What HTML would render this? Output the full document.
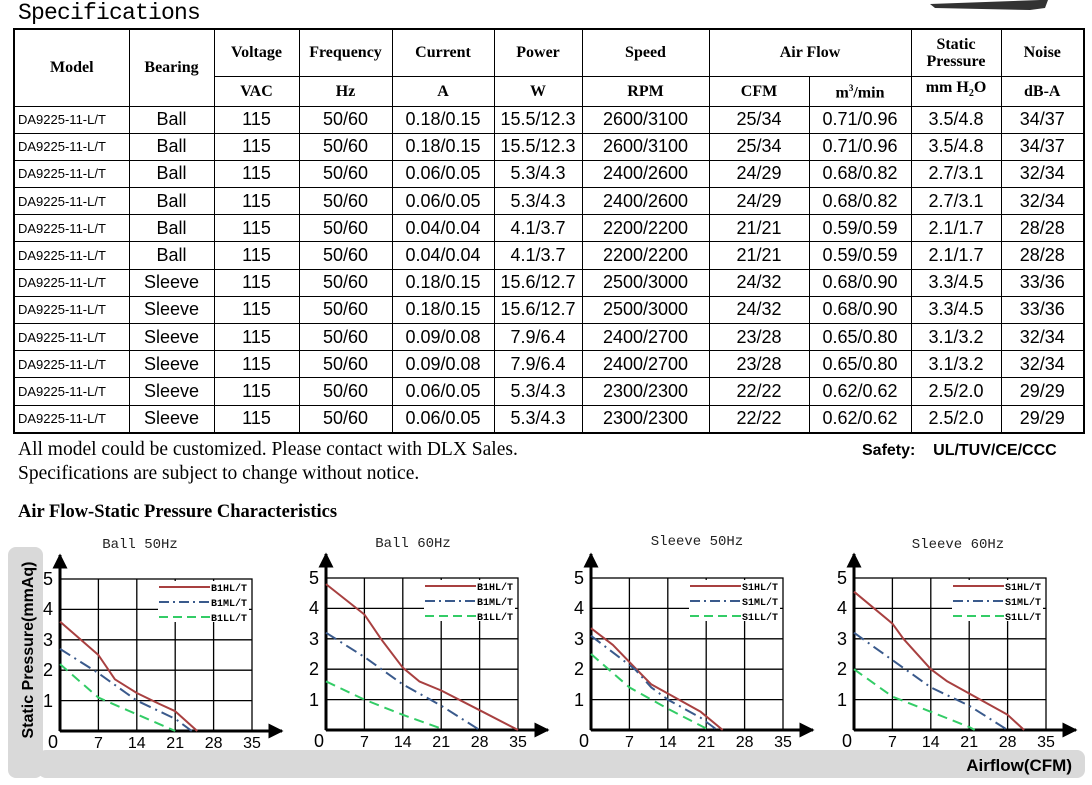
<!DOCTYPE html>
<html><head><meta charset="utf-8"><style>
body{margin:0;width:1092px;height:785px;background:#fff;position:relative;overflow:hidden;font-family:"Liberation Sans",sans-serif}
.abs{position:absolute}
table{border-collapse:collapse;table-layout:fixed;width:1070px;position:absolute;left:13px;top:28px;border:2px solid #000}
td,th{border:1.5px solid #000;text-align:center;padding:0;overflow:hidden;white-space:nowrap}
th{font-family:"Liberation Serif",serif;font-weight:bold;font-size:16px;line-height:17px}
td{font-size:18px;height:26.2px}
td.m{font-size:13px;text-align:left;padding-left:3px}
.ser{font-family:"Liberation Serif",serif}
</style></head><body>
<div class="abs" style="left:18px;top:0px;font-family:'Liberation Mono',monospace;font-size:23px;letter-spacing:-0.8px">Specifications</div>
<svg class="abs" style="left:0;top:0" width="1092" height="20"><polygon points="930,4 1040,0 1048,0 1045,8 1030,10 935,8" fill="#333"/></svg>
<table>
<colgroup><col style="width:115px"><col style="width:85px"><col style="width:85px"><col style="width:93px"><col style="width:102px"><col style="width:88px"><col style="width:127px"><col style="width:100px"><col style="width:102px"><col style="width:90px"><col style="width:83px"></colgroup>
<tr style="height:47px"><th rowspan="2">Model</th><th rowspan="2">Bearing</th><th>Voltage</th><th>Frequency</th><th>Current</th><th>Power</th><th>Speed</th><th colspan="2">Air Flow</th><th>Static<br>Pressure</th><th>Noise</th></tr>
<tr style="height:30px"><th>VAC</th><th>Hz</th><th>A</th><th>W</th><th>RPM</th><th>CFM</th><th>m<sup style="font-size:9px">3</sup>/min</th><th>mm H<sub style="font-size:10px">2</sub>O</th><th>dB-A</th></tr>
<tr><td class="m">DA9225-11-L/T</td><td>Ball</td><td>115</td><td>50/60</td><td>0.18/0.15</td><td>15.5/12.3</td><td>2600/3100</td><td>25/34</td><td>0.71/0.96</td><td>3.5/4.8</td><td>34/37</td></tr>
<tr><td class="m">DA9225-11-L/T</td><td>Ball</td><td>115</td><td>50/60</td><td>0.18/0.15</td><td>15.5/12.3</td><td>2600/3100</td><td>25/34</td><td>0.71/0.96</td><td>3.5/4.8</td><td>34/37</td></tr>
<tr><td class="m">DA9225-11-L/T</td><td>Ball</td><td>115</td><td>50/60</td><td>0.06/0.05</td><td>5.3/4.3</td><td>2400/2600</td><td>24/29</td><td>0.68/0.82</td><td>2.7/3.1</td><td>32/34</td></tr>
<tr><td class="m">DA9225-11-L/T</td><td>Ball</td><td>115</td><td>50/60</td><td>0.06/0.05</td><td>5.3/4.3</td><td>2400/2600</td><td>24/29</td><td>0.68/0.82</td><td>2.7/3.1</td><td>32/34</td></tr>
<tr><td class="m">DA9225-11-L/T</td><td>Ball</td><td>115</td><td>50/60</td><td>0.04/0.04</td><td>4.1/3.7</td><td>2200/2200</td><td>21/21</td><td>0.59/0.59</td><td>2.1/1.7</td><td>28/28</td></tr>
<tr><td class="m">DA9225-11-L/T</td><td>Ball</td><td>115</td><td>50/60</td><td>0.04/0.04</td><td>4.1/3.7</td><td>2200/2200</td><td>21/21</td><td>0.59/0.59</td><td>2.1/1.7</td><td>28/28</td></tr>
<tr><td class="m">DA9225-11-L/T</td><td>Sleeve</td><td>115</td><td>50/60</td><td>0.18/0.15</td><td>15.6/12.7</td><td>2500/3000</td><td>24/32</td><td>0.68/0.90</td><td>3.3/4.5</td><td>33/36</td></tr>
<tr><td class="m">DA9225-11-L/T</td><td>Sleeve</td><td>115</td><td>50/60</td><td>0.18/0.15</td><td>15.6/12.7</td><td>2500/3000</td><td>24/32</td><td>0.68/0.90</td><td>3.3/4.5</td><td>33/36</td></tr>
<tr><td class="m">DA9225-11-L/T</td><td>Sleeve</td><td>115</td><td>50/60</td><td>0.09/0.08</td><td>7.9/6.4</td><td>2400/2700</td><td>23/28</td><td>0.65/0.80</td><td>3.1/3.2</td><td>32/34</td></tr>
<tr><td class="m">DA9225-11-L/T</td><td>Sleeve</td><td>115</td><td>50/60</td><td>0.09/0.08</td><td>7.9/6.4</td><td>2400/2700</td><td>23/28</td><td>0.65/0.80</td><td>3.1/3.2</td><td>32/34</td></tr>
<tr><td class="m">DA9225-11-L/T</td><td>Sleeve</td><td>115</td><td>50/60</td><td>0.06/0.05</td><td>5.3/4.3</td><td>2300/2300</td><td>22/22</td><td>0.62/0.62</td><td>2.5/2.0</td><td>29/29</td></tr>
<tr><td class="m">DA9225-11-L/T</td><td>Sleeve</td><td>115</td><td>50/60</td><td>0.06/0.05</td><td>5.3/4.3</td><td>2300/2300</td><td>22/22</td><td>0.62/0.62</td><td>2.5/2.0</td><td>29/29</td></tr>
</table>
<div class="abs ser" style="left:18px;top:439px;font-size:19.5px">All model could be customized. Please contact with DLX Sales.</div>
<div class="abs ser" style="left:18px;top:463px;font-size:19.5px">Specifications are subject to change without notice.</div>
<div class="abs" style="left:862px;top:442px;font-size:16px;font-weight:bold">Safety:&nbsp;&nbsp;&nbsp;&nbsp;UL/TUV/CE/CCC</div>
<div class="abs ser" style="left:18px;top:502px;font-size:18.5px;font-weight:bold">Air Flow-Static Pressure Characteristics</div>

<svg class="abs" style="left:0;top:0" width="1092" height="785">
<defs><marker id="ar" viewBox="0 0 10 10" refX="9" refY="5" markerWidth="5" markerHeight="5" orient="auto"><path d="M0,0 L10,5 L0,10 z" fill="#000"/></marker></defs>
<rect x="8" y="547" width="35" height="231" rx="8" fill="#d9d9d9"/>
<rect x="38" y="750" width="1047" height="28" rx="8" fill="#d9d9d9"/>
<rect x="43" y="545" width="1045" height="205" fill="#fff"/>
<text transform="translate(33,650) rotate(-90)" text-anchor="middle" font-family="Liberation Sans" font-weight="bold" font-size="16">Static Pressure(mmAq)</text>
<text x="1072" y="771" text-anchor="end" font-family="Liberation Sans" font-weight="bold" font-size="17">Airflow(CFM)</text>
<g font-family="Liberation Mono" font-size="14" text-anchor="middle" fill="#222">
<text x="140" y="548">Ball 50Hz</text><text x="413" y="547">Ball 60Hz</text><text x="697" y="545">Sleeve 50Hz</text><text x="958" y="548">Sleeve 60Hz</text>
</g>

<g transform="translate(60,731)">
<g stroke="#000" stroke-width="1.3" fill="none">
<rect x="0" y="-152" width="192" height="152"/>
<path d="M38.4,-152V0M76.8,-152V0M115.2,0V-152M153.6,0V-152M0,-30.4H192M0,-60.8H192M0,-91.2H192M0,-121.6H192"/>
</g>
<rect x="98" y="-150" width="91" height="41" fill="#fff"/>
<path d="M0,0V-176" stroke="#000" stroke-width="3" marker-end="url(#ar)"/>
<path d="M0,0H222" stroke="#000" stroke-width="3" marker-end="url(#ar)"/>
<g font-family="Liberation Sans" font-size="18" text-anchor="middle">
<text x="-7" y="17">0</text><text x="-12" y="-24">1</text><text x="-12" y="-55">2</text><text x="-12" y="-85">3</text><text x="-12" y="-116">4</text><text x="-12" y="-146">5</text>
</g>
<g font-family="Liberation Sans" font-size="16" text-anchor="middle">
<text x="38.4" y="17">7</text><text x="76.8" y="17">14</text><text x="115.2" y="17">21</text><text x="153.6" y="17">28</text><text x="192" y="17">35</text>
</g>
<g stroke-width="2" fill="none" stroke-linejoin="round">
<path d="M99,-144H150" stroke="#a84040"/><path d="M99,-129H150" stroke="#3a5a8c" stroke-dasharray="10,4,2,4"/><path d="M99,-114H150" stroke="#33cc66" stroke-dasharray="9,5"/>
<polyline stroke="#a84040" points="0,-109.4 38.4,-76 54.9,-51.7 76.8,-38 98.7,-27.4 115.2,-19.8 137.2,0"/>
<polyline stroke="#3a5a8c" stroke-dasharray="12,5,2,5" points="0,-82.1 38.4,-57.8 76.8,-30.4 115.2,-12.2 131.7,0"/>
<polyline stroke="#33cc66" stroke-dasharray="10,6" points="0,-66.9 38.4,-33.4 76.8,-16.7 115.2,0"/>
</g>
<g font-family="Liberation Mono" font-size="10" font-weight="bold"><text x="151" y="-140">B1HL/T</text><text x="151" y="-125">B1ML/T</text><text x="151" y="-110">B1LL/T</text></g>
</g>

<g transform="translate(326,730)">
<g stroke="#000" stroke-width="1.3" fill="none">
<rect x="0" y="-152" width="192" height="152"/>
<path d="M38.4,-152V0M76.8,-152V0M115.2,0V-152M153.6,0V-152M0,-30.4H192M0,-60.8H192M0,-91.2H192M0,-121.6H192"/>
</g>
<rect x="98" y="-150" width="91" height="41" fill="#fff"/>
<path d="M0,0V-176" stroke="#000" stroke-width="3" marker-end="url(#ar)"/>
<path d="M0,0H222" stroke="#000" stroke-width="3" marker-end="url(#ar)"/>
<g font-family="Liberation Sans" font-size="18" text-anchor="middle">
<text x="-7" y="17">0</text><text x="-12" y="-24">1</text><text x="-12" y="-55">2</text><text x="-12" y="-85">3</text><text x="-12" y="-116">4</text><text x="-12" y="-146">5</text>
</g>
<g font-family="Liberation Sans" font-size="16" text-anchor="middle">
<text x="38.4" y="17">7</text><text x="76.8" y="17">14</text><text x="115.2" y="17">21</text><text x="153.6" y="17">28</text><text x="192" y="17">35</text>
</g>
<g stroke-width="2" fill="none" stroke-linejoin="round">
<path d="M99,-144H150" stroke="#a84040"/><path d="M99,-129H150" stroke="#3a5a8c" stroke-dasharray="10,4,2,4"/><path d="M99,-114H150" stroke="#33cc66" stroke-dasharray="9,5"/>
<polyline stroke="#a84040" points="0,-145.9 38.4,-115.5 54.9,-91.2 76.8,-62.3 93.3,-48.6 115.2,-39.5 153.6,-19.8 192,0"/>
<polyline stroke="#3a5a8c" stroke-dasharray="12,5,2,5" points="0,-97.3 38.4,-73 76.8,-45.6 115.2,-24.3 153.6,0"/>
<polyline stroke="#33cc66" stroke-dasharray="10,6" points="0,-48.6 38.4,-30.4 76.8,-15.2 115.2,-1.5"/>
</g>
<g font-family="Liberation Mono" font-size="10" font-weight="bold"><text x="151" y="-140">B1HL/T</text><text x="151" y="-125">B1ML/T</text><text x="151" y="-110">B1LL/T</text></g>
</g>

<g transform="translate(591,730)">
<g stroke="#000" stroke-width="1.3" fill="none">
<rect x="0" y="-152" width="192" height="152"/>
<path d="M38.4,-152V0M76.8,-152V0M115.2,0V-152M153.6,0V-152M0,-30.4H192M0,-60.8H192M0,-91.2H192M0,-121.6H192"/>
</g>
<rect x="98" y="-150" width="91" height="41" fill="#fff"/>
<path d="M0,0V-176" stroke="#000" stroke-width="3" marker-end="url(#ar)"/>
<path d="M0,0H222" stroke="#000" stroke-width="3" marker-end="url(#ar)"/>
<g font-family="Liberation Sans" font-size="18" text-anchor="middle">
<text x="-7" y="17">0</text><text x="-12" y="-24">1</text><text x="-12" y="-55">2</text><text x="-12" y="-85">3</text><text x="-12" y="-116">4</text><text x="-12" y="-146">5</text>
</g>
<g font-family="Liberation Sans" font-size="16" text-anchor="middle">
<text x="38.4" y="17">7</text><text x="76.8" y="17">14</text><text x="115.2" y="17">21</text><text x="153.6" y="17">28</text><text x="192" y="17">35</text>
</g>
<g stroke-width="2" fill="none" stroke-linejoin="round">
<path d="M99,-144H150" stroke="#a84040"/><path d="M99,-129H150" stroke="#3a5a8c" stroke-dasharray="10,4,2,4"/><path d="M99,-114H150" stroke="#33cc66" stroke-dasharray="9,5"/>
<polyline stroke="#a84040" points="0,-101.8 21.9,-85.1 43.9,-62.3 60.3,-45.6 76.8,-36.5 109.7,-18.2 131.7,0"/>
<polyline stroke="#3a5a8c" stroke-dasharray="12,5,2,5" points="0,-94.2 43.9,-60.8 60.3,-42.6 76.8,-30.4 109.7,-12.2 126.2,0"/>
<polyline stroke="#33cc66" stroke-dasharray="10,6" points="0,-76 38.4,-42.6 76.8,-21.3 115.2,-1.5"/>
</g>
<g font-family="Liberation Mono" font-size="10" font-weight="bold"><text x="151" y="-140">S1HL/T</text><text x="151" y="-125">S1ML/T</text><text x="151" y="-110">S1LL/T</text></g>
</g>

<g transform="translate(854,730)">
<g stroke="#000" stroke-width="1.3" fill="none">
<rect x="0" y="-152" width="192" height="152"/>
<path d="M38.4,-152V0M76.8,-152V0M115.2,0V-152M153.6,0V-152M0,-30.4H192M0,-60.8H192M0,-91.2H192M0,-121.6H192"/>
</g>
<rect x="98" y="-150" width="91" height="41" fill="#fff"/>
<path d="M0,0V-176" stroke="#000" stroke-width="3" marker-end="url(#ar)"/>
<path d="M0,0H222" stroke="#000" stroke-width="3" marker-end="url(#ar)"/>
<g font-family="Liberation Sans" font-size="18" text-anchor="middle">
<text x="-7" y="17">0</text><text x="-12" y="-24">1</text><text x="-12" y="-55">2</text><text x="-12" y="-85">3</text><text x="-12" y="-116">4</text><text x="-12" y="-146">5</text>
</g>
<g font-family="Liberation Sans" font-size="16" text-anchor="middle">
<text x="38.4" y="17">7</text><text x="76.8" y="17">14</text><text x="115.2" y="17">21</text><text x="153.6" y="17">28</text><text x="192" y="17">35</text>
</g>
<g stroke-width="2" fill="none" stroke-linejoin="round">
<path d="M99,-144H150" stroke="#a84040"/><path d="M99,-129H150" stroke="#3a5a8c" stroke-dasharray="10,4,2,4"/><path d="M99,-114H150" stroke="#33cc66" stroke-dasharray="9,5"/>
<polyline stroke="#a84040" points="0,-138.3 38.4,-106.4 49.4,-91.2 76.8,-60.8 93.3,-48.6 115.2,-36.5 153.6,-15.2 170.1,0"/>
<polyline stroke="#3a5a8c" stroke-dasharray="12,5,2,5" points="0,-97.3 38.4,-69.9 76.8,-42.6 115.2,-24.3 153.6,0"/>
<polyline stroke="#33cc66" stroke-dasharray="10,6" points="0,-60.8 38.4,-33.4 76.8,-18.2 115.2,-3 120.7,0"/>
</g>
<g font-family="Liberation Mono" font-size="10" font-weight="bold"><text x="151" y="-140">S1HL/T</text><text x="151" y="-125">S1ML/T</text><text x="151" y="-110">S1LL/T</text></g>
</g>
</svg>
</body></html>
